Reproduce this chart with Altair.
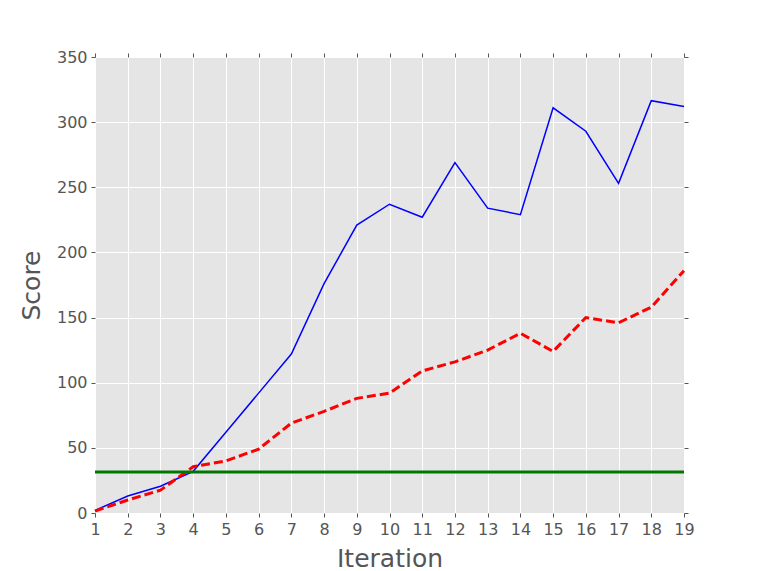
import altair as alt
import pandas as pd

iterations = list(range(1, 20))
score_a = [2, 13, 20.5, 32, 62, 92, 122, 176, 221, 237, 227, 269, 234, 229, 311, 293, 253, 316.5, 312]
score_b = [1.5, 10, 17.5, 35.5, 40, 49, 69, 78, 88, 92, 109, 116, 125, 138, 124, 150, 146, 158, 186]
baseline = 31.5

df = pd.DataFrame({"Iteration": iterations, "A": score_a, "B": score_b})
df_rule = pd.DataFrame({"x0": [iterations[0]], "x1": [iterations[-1]], "b": [baseline]})

xs = alt.Scale(domain=[1, 19], nice=False, zero=False)
ys = alt.Scale(domain=[0, 350], nice=False)
yticks = list(range(0, 351, 50))

line_a = alt.Chart(df).mark_line(color="#0000ff", strokeWidth=1.5).encode(
    x=alt.X("Iteration:Q", scale=xs,
            axis=alt.Axis(values=iterations, title="Iteration", grid=True, orient="bottom", titlePadding=9)),
    y=alt.Y("A:Q", scale=ys,
            axis=alt.Axis(values=yticks, title="Score", grid=True, orient="left", titlePadding=12)),
)

line_b = alt.Chart(df).mark_line(color="#ff0000", strokeWidth=3, strokeDash=[9, 4]).encode(
    x=alt.X("Iteration:Q", scale=xs, axis=None),
    y=alt.Y("B:Q", scale=ys, axis=None),
)

rule = alt.Chart(df_rule).mark_rule(color="#007700", strokeWidth=3).encode(
    x=alt.X("x0:Q", scale=xs, axis=None),
    x2="x1:Q",
    y=alt.Y("b:Q", scale=ys, axis=None),
)

frame = alt.Chart(df).mark_point(opacity=0).encode(
    x=alt.X("Iteration:Q", scale=xs,
            axis=alt.Axis(values=iterations, orient="top", labels=False, title=None, grid=False)),
    y=alt.Y("A:Q", scale=ys,
            axis=alt.Axis(values=yticks, orient="right", labels=False, title=None, grid=False)),
)

chart = alt.layer(line_a, line_b, rule, frame).resolve_axis(x="independent", y="independent").properties(
    width=589, height=456,
    padding={"left": 87, "top": 49, "right": 60, "bottom": 58},
    autosize=alt.AutoSizeParams(type="none"),
).configure_view(fill="#e5e5e5", stroke=None).configure_axis(
    domain=False,
    gridColor="#ffffff",
    gridWidth=1,
    tickColor="#555555",
    tickSize=4,
    labelColor="#555555",
    labelFont="DejaVu Sans",
    labelFontSize=16,
    labelPadding=4,
    labelFlush=False,
    labelOverlap=False,
    labelBound=False,
    titleColor="#555555",
    titleFont="DejaVu Sans",
    titleFontSize=25,
    titleFontWeight="normal",
)

chart.save("out.html", embed_options={"renderer": "svg", "actions": False})
